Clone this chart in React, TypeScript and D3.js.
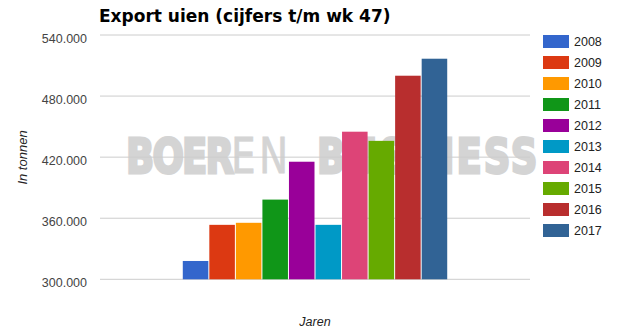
import React from "react";
import * as d3 from "d3";

const years = ["2008", "2009", "2010", "2011", "2012", "2013", "2014", "2015", "2016", "2017"];
const exportValues = [318000, 353500, 355500, 378300, 415500, 353500, 445000, 436000, 500000, 516700];
const colors = ["#3366cc", "#dc3912", "#ff9900", "#109618", "#990099", "#0099c6", "#dd4477", "#66aa00", "#b82e2e", "#316395"];
const yTicks = [300000, 360000, 420000, 480000, 540000];
const categories = [""];

const W = 620;
const H = 332;
const plot = { left: 100, right: 530, top: 35, bottom: 279.3 };

export default function App() {
  const y = d3.scaleLinear().domain([300000, 540000]).range([plot.bottom, plot.top]);
  const x0 = d3.scaleBand().domain(categories).range([plot.left, plot.right]).paddingInner(0).paddingOuter(0.31);
  const x1 = d3.scaleBand().domain(years).range([0, x0.bandwidth()]).padding(0);
  const fmt = (v: number) => d3.format(",")(v).replace(/,/g, ".");
  const font = "'Liberation Sans', Arial, sans-serif";
  const wmScale = 1.29;
  const wmBase = 173 / wmScale;

  return (
    <svg width={W} height={H} style={{ position: "absolute", left: 0, top: 0 }}>
      <rect width={W} height={H} fill="#fff" />
      <text x={99} y={22} fontFamily="'DejaVu Sans', sans-serif" fontWeight="bold" fontSize={17} fill="#000">
        Export uien (cijfers t/m wk 47)
      </text>
      {/* watermark */}
      <text
        transform={`scale(1,${wmScale})`}
        fontFamily="'DejaVu Sans', sans-serif"
        fontSize={37}
        fill="#d4d4d4"
        stroke="#d4d4d4"
        y={wmBase}
      >
        <tspan x={126} fontWeight="bold" strokeWidth={2.2} letterSpacing={-1.8}>BOER</tspan>
        <tspan x={231} fontWeight="normal" fontSize={39} strokeWidth={0.6} letterSpacing={3.5}>EN</tspan>
        <tspan x={317} fontWeight="bold" strokeWidth={2.2} letterSpacing={2}>BUSINESS</tspan>
      </text>
      {yTicks.map((t) => (
        <g key={t}>
          <line x1={plot.left} x2={plot.right} y1={y(t)} y2={y(t)} stroke="#cccccc" strokeWidth={1} />
          <text x={87} y={y(t) + 7.5} textAnchor="end" fontFamily={font} fontSize={12.5} fill="#444">
            {fmt(t)}
          </text>
        </g>
      ))}
      {categories.map((c) => (
        <g key={c} transform={`translate(${x0(c)},0)`}>
          {years.map((yr, i) => (
            <rect
              key={yr}
              x={(x1(yr) as number) + 0.5}
              y={y(exportValues[i])}
              width={x1.bandwidth() - 1}
              height={y(300000) - y(exportValues[i])}
              fill={colors[i]}
            />
          ))}
        </g>
      ))}
      <text x={315} y={326} textAnchor="middle" fontFamily={font} fontStyle="italic" fontSize={12.5} fill="#222">
        Jaren
      </text>
      <text
        transform={`translate(27,157.5) rotate(-90)`}
        textAnchor="middle"
        fontFamily={font}
        fontStyle="italic"
        fontSize={13}
        fill="#222"
      >
        In tonnen
      </text>
      {years.map((yr, i) => (
        <g key={yr} transform={`translate(543,${35 + i * 21})`}>
          <rect width={26} height={13} fill={colors[i]} />
          <text x={31} y={11} fontFamily={font} fontSize={12.5} fill="#222">
            {yr}
          </text>
        </g>
      ))}
    </svg>
  );
}
